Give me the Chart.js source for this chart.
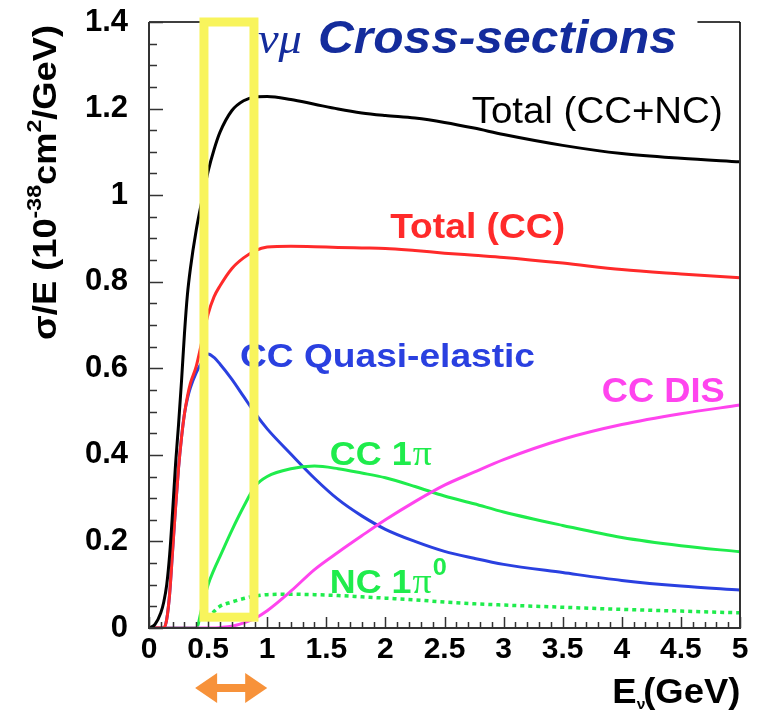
<!DOCTYPE html>
<html>
<head>
<meta charset="utf-8">
<script src="https://cdn.jsdelivr.net/npm/chart.js@4.4.1/dist/chart.umd.min.js"></script>
<style>
html,body{margin:0;padding:0;background:#ffffff;}
#wrap{width:761px;height:713px;position:relative;}
</style>
</head>
<body>
<div id="wrap"><canvas id="c" width="761" height="713"></canvas></div>
<script>
// ---------------- data ----------------
const ENERGY = [0, 0.05, 0.1, 0.125, 0.15, 0.175, 0.2, 0.225, 0.25, 0.275, 0.3, 0.325, 0.35, 0.4, 0.45, 0.5, 0.55,
                0.6, 0.7, 0.8, 0.9, 1.0, 1.2, 1.4, 1.6, 1.8, 2.0, 2.25, 2.5, 2.75, 3.0, 3.5, 4.0, 4.5, 5.0];
const TOTAL_CC_NC = [0, 0.008, 0.035, 0.06, 0.1, 0.17, 0.27, 0.38, 0.47, 0.57, 0.68, 0.77, 0.83, 0.92, 0.99, 1.055, 1.105,
                     1.145, 1.195, 1.218, 1.227, 1.228, 1.221, 1.21, 1.199, 1.19, 1.184, 1.178, 1.168, 1.155, 1.14, 1.115, 1.096, 1.085, 1.077];
const TOTAL_CC = [0, 0, 0, 0, 0.02, 0.08, 0.18, 0.28, 0.37, 0.44, 0.495, 0.535, 0.565, 0.605, 0.665, 0.725, 0.765,
                  0.79, 0.83, 0.855, 0.872, 0.88, 0.882, 0.881, 0.879, 0.878, 0.877, 0.872, 0.866, 0.861, 0.856, 0.843, 0.828, 0.818, 0.809];
const CC_QE = [0, 0, 0, 0, 0.02, 0.08, 0.18, 0.28, 0.37, 0.44, 0.495, 0.53, 0.555, 0.59, 0.615, 0.633, 0.625,
               0.61, 0.575, 0.535, 0.495, 0.46, 0.402, 0.346, 0.297, 0.259, 0.228, 0.2, 0.177, 0.161, 0.147, 0.128, 0.11, 0.097, 0.088];
const CC_1PI = [0, 0, 0, 0, 0, 0, 0, 0, 0, 0, 0, 0, 0, 0, 0.05, 0.10, 0.135,
                0.165, 0.225, 0.28, 0.328, 0.35, 0.368, 0.374, 0.368, 0.358, 0.347, 0.327, 0.305, 0.287, 0.268, 0.237, 0.209, 0.19, 0.176];
const CC_DIS = [0, 0, 0, 0, 0, 0, 0, 0, 0, 0, 0, 0, 0, 0, 0, 0, 0,
                0.001, 0.004, 0.012, 0.023, 0.04, 0.085, 0.135, 0.175, 0.213, 0.25, 0.292, 0.33, 0.36, 0.389, 0.436, 0.47, 0.495, 0.515];
const NC_1PI0 = [null, null, null, null, null, null, null, null, null, null, null, null, null, null, null, 0.02, 0.038,
                 0.05, 0.06, 0.068, 0.074, 0.077, 0.078, 0.077, 0.075, 0.072, 0.069, 0.065, 0.06, 0.056, 0.053, 0.048, 0.043, 0.039, 0.035];

const X_TICKS = [0, 0.5, 1, 1.5, 2, 2.5, 3, 3.5, 4, 4.5, 5];
const Y_TICKS = [0, 0.2, 0.4, 0.6, 0.8, 1, 1.2, 1.4];

const SERIES_NAMES = ['Total (CC+NC)', 'Total (CC)', 'CC Quasi-elastic', 'CC 1π', 'CC DIS', 'NC 1π0'];
const TITLE_TEXT = 'Cross-sections';

// label anchors in data units (energy, cross-section)
const LABEL_ANCHORS = {
  total: [2.73, 1.166],
  cc: [2.04, 0.901],
  qe: [0.77, 0.603],
  dis: [3.83, 0.522],
  pi: [1.53, 0.377],
  pi0: [1.53, 0.081]
};
const BOX_RANGE = {x0: 0.465, x1: 0.888, y0: 0.025, y1: 1.4};
const ARROW_RANGE = [0.39, 1.0];

// ---------------- colours ----------------
const C_BLACK = '#000000', C_RED = '#ff2a2a', C_BLUE = '#2a40e0', C_GREEN = '#1fec4c', C_MAG = '#ff44ee';
const C_TITLE = '#142c9c', C_YELLOW = '#f8f45c', C_ORANGE = '#f7923a';
const SANS = '"Liberation Sans", Arial, sans-serif';

function pts(arr){ return ENERGY.map((e,i)=>({x:e, y:arr[i]})); }

function ds(label, arr, color, extra){
  return Object.assign({label, data: pts(arr), borderColor: color, backgroundColor: color,
    borderWidth: 3, pointRadius: 0, cubicInterpolationMode: 'monotone', fill: false, spanGaps: false}, extra||{});
}

// draw a run of text pieces, stretched horizontally to a target total width
function drawRun(ctx, x, y, pieces, target){
  let total = 0;
  pieces.forEach(p => { ctx.font = p.font; p.w = ctx.measureText(p.t).width; total += p.w + (p.gap || 0); });
  const k = target ? target / total : 1;
  ctx.save();
  ctx.translate(x, y);
  ctx.scale(k, 1);
  let cx = 0;
  pieces.forEach(p => { ctx.font = p.font; ctx.fillText(p.t, cx + (p.gap || 0), p.dy || 0); cx += p.w + (p.gap || 0); });
  ctx.restore();
}

const decor = {
  id: 'decor',
  afterDatasetsDraw(chart){
    const ctx = chart.ctx, xs = chart.scales.x, ys = chart.scales.y, a = chart.chartArea;
    const X = v => xs.getPixelForValue(v), Y = v => ys.getPixelForValue(v);
    ctx.save();
    // frame
    ctx.strokeStyle = '#333333'; ctx.lineWidth = 2;
    ctx.beginPath();
    ctx.moveTo(a.left, a.top); ctx.lineTo(a.left, a.bottom); ctx.lineTo(a.right, a.bottom); ctx.lineTo(a.right, a.top);
    ctx.stroke();
    ctx.lineWidth = 1.5; ctx.strokeStyle = '#000';
    ctx.beginPath();
    ctx.moveTo(a.left, a.top); ctx.lineTo(X(BOX_RANGE.x0), a.top);
    ctx.moveTo(X(4.64), a.top); ctx.lineTo(a.right, a.top);
    ctx.stroke();
    // y ticks (inward)
    ctx.strokeStyle = '#333'; ctx.lineWidth = 1.5;
    ctx.beginPath();
    for (let k = 0; k <= 28; k++) {
      const v = k * 0.05, p = Math.round(Y(v)) + 0.5, len = (k % 4 === 0) ? 14 : 8;
      ctx.moveTo(a.left, p); ctx.lineTo(a.left + len, p);
    }
    // x ticks (inward)
    for (let k = 0; k <= 50; k++) {
      const v = k * 0.1, p = Math.round(X(v)) + 0.5, len = (k % 5 === 0) ? 11 : 6;
      ctx.moveTo(p, a.bottom); ctx.lineTo(p, a.bottom - len);
    }
    ctx.stroke();

    // curve labels
    ctx.textBaseline = 'alphabetic'; ctx.textAlign = 'left';
    const L = k => [X(LABEL_ANCHORS[k][0]), Y(LABEL_ANCHORS[k][1])];
    ctx.fillStyle = C_BLACK;
    drawRun(ctx, ...L('total'), [{t: 'Total (CC+NC)', font: '37px ' + SANS}], 251);
    ctx.fillStyle = C_RED;
    drawRun(ctx, ...L('cc'), [{t: 'Total (CC)', font: 'bold 35px ' + SANS}], 175);
    ctx.fillStyle = C_BLUE;
    drawRun(ctx, ...L('qe'), [{t: 'CC Quasi-elastic', font: 'bold 34px ' + SANS}], 295);
    ctx.fillStyle = C_MAG;
    drawRun(ctx, ...L('dis'), [{t: 'CC DIS', font: 'bold 35px ' + SANS}], 123);
    ctx.fillStyle = C_GREEN;
    drawRun(ctx, ...L('pi'), [{t: 'CC 1', font: 'bold 34px ' + SANS}, {t: 'π', font: '36px "Liberation Serif", serif', gap: 1}], 102);
    drawRun(ctx, ...L('pi0'), [{t: 'NC 1', font: 'bold 34px ' + SANS}, {t: 'π', font: '36px "Liberation Serif", serif', gap: 1},
                              {t: '0', font: 'bold 24px ' + SANS, dy: -18, gap: 1}], 117);

    // yellow box
    ctx.strokeStyle = C_YELLOW; ctx.lineWidth = 9;
    ctx.strokeRect(X(BOX_RANGE.x0), Y(BOX_RANGE.y1), X(BOX_RANGE.x1) - X(BOX_RANGE.x0), Y(BOX_RANGE.y0) - Y(BOX_RANGE.y1));

    // title
    const tx = X(BOX_RANGE.x1) + 4, ty = Y(1.328);
    ctx.fillStyle = C_TITLE;
    drawRun(ctx, tx, ty, [{t: 'νμ', font: 'italic 44px "Liberation Serif", serif'}], 44);
    drawRun(ctx, tx + 60, ty, [{t: TITLE_TEXT, font: 'italic bold 46px ' + SANS}], 359);

    // y axis title (rotated)
    ctx.save();
    ctx.translate(56, 340);
    ctx.rotate(-Math.PI / 2);
    ctx.fillStyle = '#000';
    const F = 'bold 33px ' + SANS, FS = 'bold 21px ' + SANS;
    drawRun(ctx, 0, 0, [{t: 'σ/E (10', font: F}, {t: '-38', font: FS, dy: -15}, {t: 'cm', font: F},
                        {t: '2', font: FS, dy: -15}, {t: '/GeV)', font: F}], 315);
    ctx.restore();

    // x axis title
    ctx.fillStyle = '#000';
    drawRun(ctx, X(3.92), 703, [{t: 'E', font: 'bold 35px ' + SANS}, {t: 'ν', font: 'bold 15px ' + SANS, dy: 6},
                                {t: '(GeV)', font: 'bold 35px ' + SANS, gap: -2}], 128);

    // orange double arrow
    const ax0 = X(ARROW_RANGE[0]), ax1 = X(ARROW_RANGE[1]), ay = 688;
    ctx.fillStyle = C_ORANGE;
    ctx.fillRect(ax0 + 14, ay - 4, ax1 - ax0 - 28, 8);
    ctx.beginPath(); ctx.moveTo(ax0, ay); ctx.lineTo(ax0 + 22, ay - 15); ctx.lineTo(ax0 + 22, ay + 15); ctx.closePath(); ctx.fill();
    ctx.beginPath(); ctx.moveTo(ax1, ay); ctx.lineTo(ax1 - 22, ay - 15); ctx.lineTo(ax1 - 22, ay + 15); ctx.closePath(); ctx.fill();
    ctx.restore();
  }
};

const fmt = v => String(Math.round(v * 100) / 100);

new Chart(document.getElementById('c'), {
  type: 'line',
  data: {
    datasets: [
      ds(SERIES_NAMES[0], TOTAL_CC_NC, C_BLACK),
      ds(SERIES_NAMES[1], TOTAL_CC, C_RED),
      ds(SERIES_NAMES[4], CC_DIS, C_MAG),
      ds(SERIES_NAMES[3], CC_1PI, C_GREEN),
      ds(SERIES_NAMES[2], CC_QE, C_BLUE),
      ds(SERIES_NAMES[5], NC_1PI0, C_GREEN, {borderDash: [4, 4], borderWidth: 3.5})
    ]
  },
  options: {
    responsive: false,
    animation: false,
    devicePixelRatio: 1,
    layout: {padding: {left: 0, top: 22, right: 21, bottom: 0}},
    plugins: {legend: {display: false}, tooltip: {enabled: false}},
    scales: {
      x: {
        type: 'linear', min: 0, max: 5,
        afterBuildTicks: s => { s.ticks = X_TICKS.map(v => ({value: v})); },
        afterFit: s => { s.height = 85; s.paddingLeft = 0; s.paddingRight = 0; },
        grid: {display: false, drawTicks: false}, border: {display: false},
        ticks: {color: '#000', padding: 4, maxRotation: 0, autoSkip: false, callback: fmt,
                font: {family: SANS, size: 30, weight: 'bold'}}
      },
      y: {
        type: 'linear', min: 0, max: 1.4,
        afterBuildTicks: s => { s.ticks = Y_TICKS.map(v => ({value: v})); },
        afterFit: s => { s.width = 149; s.paddingTop = 0; s.paddingBottom = 0; },
        grid: {display: false, drawTicks: false}, border: {display: false},
        ticks: {color: '#000', padding: 21, autoSkip: false, callback: fmt,
                font: {family: SANS, size: 31, weight: 'bold'}}
      }
    }
  },
  plugins: [decor]
});
</script>
</body>
</html>
